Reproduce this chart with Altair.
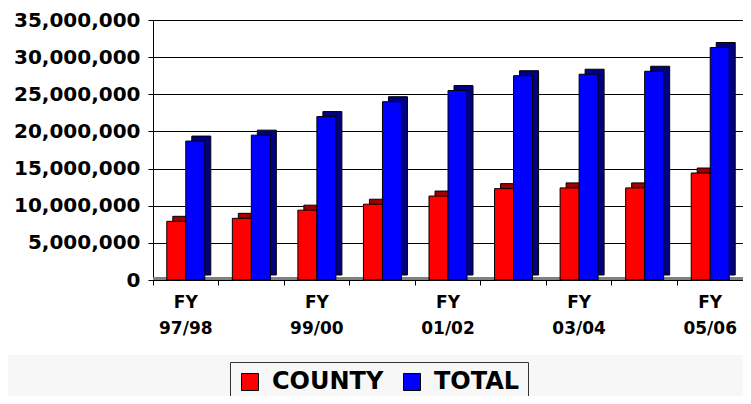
import altair as alt
import pandas as pd

years = ["97/98", "98/99", "99/00", "00/01", "01/02", "02/03", "03/04", "04/05", "05/06"]
county = [7.9e6, 8.3e6, 9.4e6, 10.2e6, 11.3e6, 12.3e6, 12.4e6, 12.4e6, 14.4e6]
total = [18.7e6, 19.5e6, 22.0e6, 24.0e6, 25.5e6, 27.5e6, 27.7e6, 28.1e6, 31.3e6]
series = ["COUNTY", "TOTAL"]
shown_years = years[::2]
y_ticks = [0, 5000000, 10000000, 15000000, 20000000, 25000000, 30000000, 35000000]

rows = []
for yr, c, t in zip(years, county, total):
    rows.append({"year": yr, "series": "COUNTY", "value": c})
    rows.append({"year": yr, "series": "TOTAL", "value": t})
df = pd.DataFrame(rows)

W, H = 590, 260
FONT = "DejaVu Sans"
label_expr = "indexof(" + str(shown_years) + ", datum.value) >= 0 ? ['FY', datum.value] : ''"

x_axis = alt.Axis(
    title=None, labelAngle=0, bandPosition=0,
    labelExpr=label_expr, labelFont=FONT, labelFontSize=17,
    labelFontWeight="bold", labelColor="black", labelLineHeight=26,
    labelPadding=9, labelBaseline="top", tickSize=5, tickColor="black",
    domainColor="black", labelOverlap=False, grid=False,
)
y_axis = alt.Axis(
    title=None, values=y_ticks, format=",d", labelFont=FONT,
    labelFontSize=20, labelFontWeight="bold", labelColor="black",
    tickSize=5, tickColor="black", domainColor="black", grid=True,
    gridColor="black", gridOpacity=1, gridWidth=1, labelPadding=8,
    labelOverlap=False,
)
y_scale = alt.Scale(domain=[0, 35000000], nice=False)

x_enc = alt.X("year:N", sort=years, scale=alt.Scale(paddingInner=0, paddingOuter=0), axis=x_axis)
y_enc = alt.Y("value:Q", scale=y_scale, axis=y_axis)

base = alt.Chart(df)

band = base.mark_rect(color="#f7f7f7").encode(
    x=alt.value(-145), x2=alt.value(W), y=alt.value(335), y2=alt.value(376)
)

floor = base.transform_calculate(zero="0").mark_rule(
    color="#808080", strokeWidth=3, yOffset=-1.5
).encode(
    y=alt.Y("zero:Q", scale=y_scale, axis=y_axis), x=alt.value(0), x2=alt.value(W)
)

depth = base.mark_bar(stroke="black", strokeWidth=1, yOffset=-5).encode(
    x=x_enc,
    xOffset=alt.XOffset("series:N", sort=series,
                        scale=alt.Scale(paddingInner=0, paddingOuter=0.725, align=0.718)),
    y=y_enc,
    color=alt.condition("datum.series == 'COUNTY'", alt.value("#a00000"), alt.value("#000080")),
)

front = base.mark_bar(stroke="black", strokeWidth=1).encode(
    x=x_enc,
    xOffset=alt.XOffset("series:N", sort=series,
                        scale=alt.Scale(paddingInner=0, paddingOuter=0.725, align=0.5)),
    y=y_enc,
    color=alt.Color(
        "series:N",
        scale=alt.Scale(domain=series, range=["#ff0000", "#0000ff"]),
        legend=alt.Legend(
            title=None, orient="none", legendX=77, legendY=342,
            direction="horizontal", symbolType="square", symbolSize=289,
            symbolStrokeColor="black", symbolStrokeWidth=1,
            labelFont=FONT, labelFontSize=24, labelFontWeight="bold",
            labelColor="black", fillColor="#f7f7f7", strokeColor="#333333",
            padding=8, columnPadding=16, labelOffset=10,
        ),
    ),
)

chart = (
    alt.layer(band, floor, depth, front)
    .resolve_scale(xOffset="independent")
    .properties(
        width=W, height=H,
        autosize=alt.AutoSizeParams(type="none"),
        padding={"left": 145, "top": 12, "right": 0, "bottom": 116},
        background="white",
    )
    .configure_view(stroke=None)
)

chart.save("out.html", embed_options={"renderer": "svg", "actions": False})
